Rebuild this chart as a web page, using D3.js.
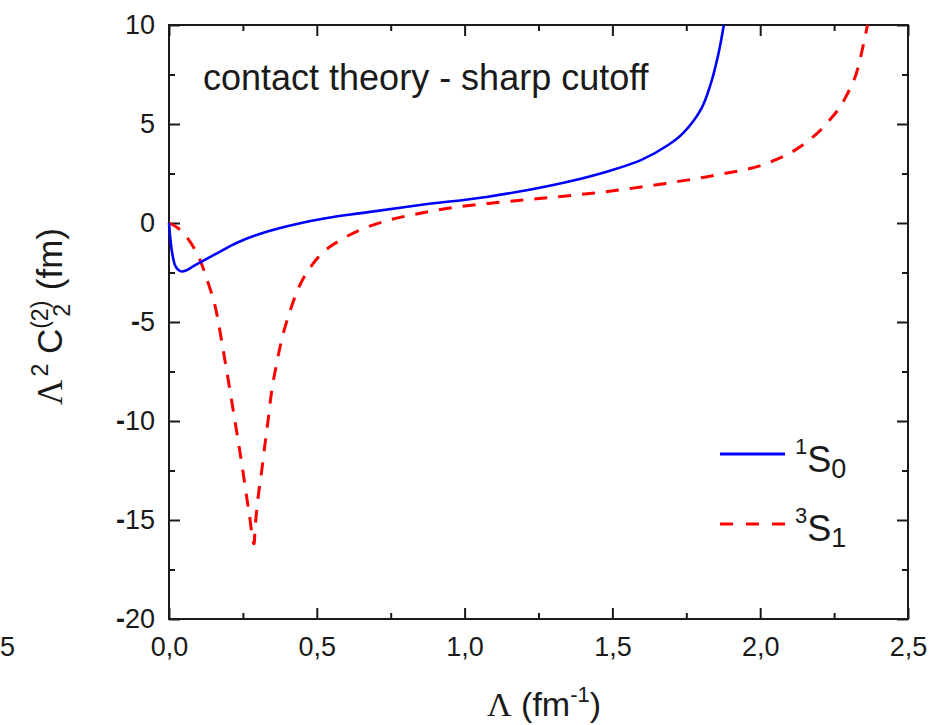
<!DOCTYPE html>
<html>
<head>
<meta charset="utf-8">
<script src="https://cdn.jsdelivr.net/npm/d3@7"></script>
<style>
  body { margin: 0; background: #fff; }
  text { font-family: "Liberation Sans", Arial, sans-serif; fill: #1a1a1a; }
</style>
</head>
<body>
<svg id="chart" width="938" height="725"></svg>
<script>
// cutoff Lambda (fm^-1) and Lambda^2 C2 (fm)
var lambda1S0 = [0, 0.005, 0.01, 0.02, 0.03, 0.043, 0.06, 0.08, 0.11, 0.17, 0.23, 0.33, 0.44, 0.53, 0.65, 0.85, 1.08, 1.30, 1.46, 1.6, 1.69, 1.74, 1.80, 1.83, 1.858, 1.877];
var value1S0  = [0, -0.85, -1.45, -2.12, -2.35, -2.45, -2.38, -2.2, -1.95, -1.47, -1.0, -0.44, -0.02, 0.24, 0.5, 0.91, 1.33, 1.92, 2.5, 3.2, 3.95, 4.55, 5.75, 6.9, 8.5, 10];

var lambda3S1 = [0, 0.03, 0.054, 0.08, 0.10, 0.133, 0.156, 0.189, 0.218, 0.246, 0.272, 0.288, 0.291, 0.302, 0.314, 0.325, 0.336, 0.347, 0.362, 0.381, 0.407, 0.432, 0.49, 0.52, 0.567, 0.65, 0.74, 0.85, 0.91, 1.08, 1.30, 1.46, 1.53, 1.68, 1.85, 2.02, 2.135, 2.225, 2.29, 2.332, 2.35, 2.363];
var value3S1  = [0, -0.25, -0.6, -1.15, -1.7, -3.05, -4.2, -6.92, -9.53, -12.14, -14.75, -16.2, -15.5, -13.8, -12.47, -11.13, -9.87, -8.52, -7.26, -5.91, -4.56, -3.5, -2.0, -1.5, -0.98, -0.33, 0.13, 0.49, 0.66, 0.99, 1.3, 1.55, 1.68, 2.0, 2.42, 3.0, 3.85, 5.03, 6.38, 7.9, 9.08, 10];

var xMajor = [0, 0.5, 1.0, 1.5, 2.0, 2.5];
var xMinor = [0.25, 0.75, 1.25, 1.75, 2.25];
var yMajor = [-20, -15, -10, -5, 0, 5, 10];
var yMinor = [-17.5, -12.5, -7.5, -2.5, 2.5, 7.5];

var svg = d3.select("#chart");
var pLeft = 169, pRight = 908, pTop = 25, pBottom = 619;

var x = d3.scaleLinear().domain([0, 2.5]).range([pLeft, pRight]);
var y = d3.scaleLinear().domain([-20, 10]).range([pBottom, pTop]);

var commaFmt = d3.formatLocale({decimal: ",", thousands: ".", grouping: [3], currency: ["", ""]}).format(".1f");

function styleAxis(g) {
  g.attr("font-size", 27).attr("font-family", "Liberation Sans, Arial, sans-serif");
  g.select(".domain").remove();
  g.selectAll(".tick line").attr("stroke", "#1a1a1a").attr("stroke-width", 2);
  g.selectAll(".tick text").attr("fill", "#1a1a1a");
}

// bottom
svg.append("g").attr("transform", "translate(0," + pBottom + ")")
  .call(d3.axisBottom(x).tickValues(xMajor).tickSize(-11).tickPadding(18).tickFormat(commaFmt))
  .call(styleAxis);
svg.append("g").attr("transform", "translate(0," + pBottom + ")")
  .call(d3.axisBottom(x).tickValues(xMinor).tickSize(-6).tickFormat(""))
  .call(styleAxis);
// top
svg.append("g").attr("transform", "translate(0," + pTop + ")")
  .call(d3.axisTop(x).tickValues(xMajor).tickSize(-11).tickFormat(""))
  .call(styleAxis);
svg.append("g").attr("transform", "translate(0," + pTop + ")")
  .call(d3.axisTop(x).tickValues(xMinor).tickSize(-6).tickFormat(""))
  .call(styleAxis);
// left
var yLeft = svg.append("g").attr("transform", "translate(" + pLeft + ",0)")
  .call(d3.axisLeft(y).tickValues(yMajor).tickSize(-11).tickPadding(14).tickFormat(d3.format("d")))
  .call(styleAxis);
yLeft.selectAll(".tick text").each(function (d) {
  var t = d3.select(this);
  t.text(null);
  if (d < 0) t.append("tspan").attr("font-weight", "bold").text("-");
  t.append("tspan").text(Math.abs(d));
});
svg.append("g").attr("transform", "translate(" + pLeft + ",0)")
  .call(d3.axisLeft(y).tickValues(yMinor).tickSize(-6).tickFormat(""))
  .call(styleAxis);
// right
svg.append("g").attr("transform", "translate(" + pRight + ",0)")
  .call(d3.axisRight(y).tickValues(yMajor).tickSize(-11).tickFormat(""))
  .call(styleAxis);
svg.append("g").attr("transform", "translate(" + pRight + ",0)")
  .call(d3.axisRight(y).tickValues(yMinor).tickSize(-6).tickFormat(""))
  .call(styleAxis);

// frame
svg.append("rect")
  .attr("x", pLeft).attr("y", pTop)
  .attr("width", pRight - pLeft).attr("height", pBottom - pTop)
  .attr("fill", "none").attr("stroke", "#1a1a1a").attr("stroke-width", 2);

// curves
var lineFor = function (curve) {
  return d3.line()
    .x(function (d) { return x(d[0]); })
    .y(function (d) { return y(d[1]); })
    .curve(curve);
};

svg.append("path")
  .datum(d3.zip(lambda3S1, value3S1))
  .attr("d", lineFor(d3.curveMonotoneX))
  .attr("fill", "none").attr("stroke", "#ff0000").attr("stroke-width", 3)
  .attr("stroke-dasharray", "13,11");

svg.append("path")
  .datum(d3.zip(lambda1S0, value1S0))
  .attr("d", lineFor(d3.curveCatmullRom.alpha(0.5)))
  .attr("fill", "none").attr("stroke", "#0000ff").attr("stroke-width", 2.6);

// annotation
svg.append("text").attr("x", 203).attr("y", 90).attr("font-size", 36)
  .text("contact theory - sharp cutoff");

// legend
svg.append("line").attr("x1", 720).attr("x2", 785).attr("y1", 454).attr("y2", 454)
  .attr("stroke", "#0000ff").attr("stroke-width", 3);
svg.append("line").attr("x1", 720).attr("x2", 785).attr("y1", 524).attr("y2", 524)
  .attr("stroke", "#ff0000").attr("stroke-width", 3).attr("stroke-dasharray", "13,13");

function legendLabel(ypos, sup, sub) {
  var t = svg.append("text").attr("x", 795).attr("y", ypos).attr("font-size", 36);
  t.append("tspan").attr("font-size", 22).attr("dy", -18).text(sup);
  t.append("tspan").attr("dy", 18).text("S");
  t.append("tspan").attr("font-size", 27).attr("dy", 6).text(sub);
}
legendLabel(472, "1", "0");
legendLabel(541, "3", "1");

// axis titles
var xt = svg.append("text").attr("x", 487).attr("y", 716).attr("font-size", 34);
xt.append("tspan").attr("font-family", "Liberation Serif, Times New Roman, serif").text("\u039B");
xt.append("tspan").text(" (fm");
xt.append("tspan").attr("font-size", 22).attr("dy", -14).text("-1");
xt.append("tspan").attr("dy", 14).text(")");

var yt = svg.append("text").attr("transform", "translate(62,405) rotate(-90)").attr("font-size", 35);
yt.append("tspan").attr("font-family", "Liberation Serif, Times New Roman, serif").text("\u039B");
yt.append("tspan").attr("font-size", 23).attr("dx", 3).attr("dy", -14).text("2");
yt.append("tspan").attr("dy", 14).text(" C");
yt.append("tspan").attr("font-size", 23).attr("dy", -14).text("(2)");
yt.append("tspan").attr("font-size", 23).attr("dx", -16).attr("dy", 22).text("2");
yt.append("tspan").attr("dx", 4).attr("dy", -8).text(" (fm)");

// clipped label from neighbouring panel
svg.append("text").attr("x", 0).attr("y", 656).attr("font-size", 27).text("5");
</script>
</body>
</html>
